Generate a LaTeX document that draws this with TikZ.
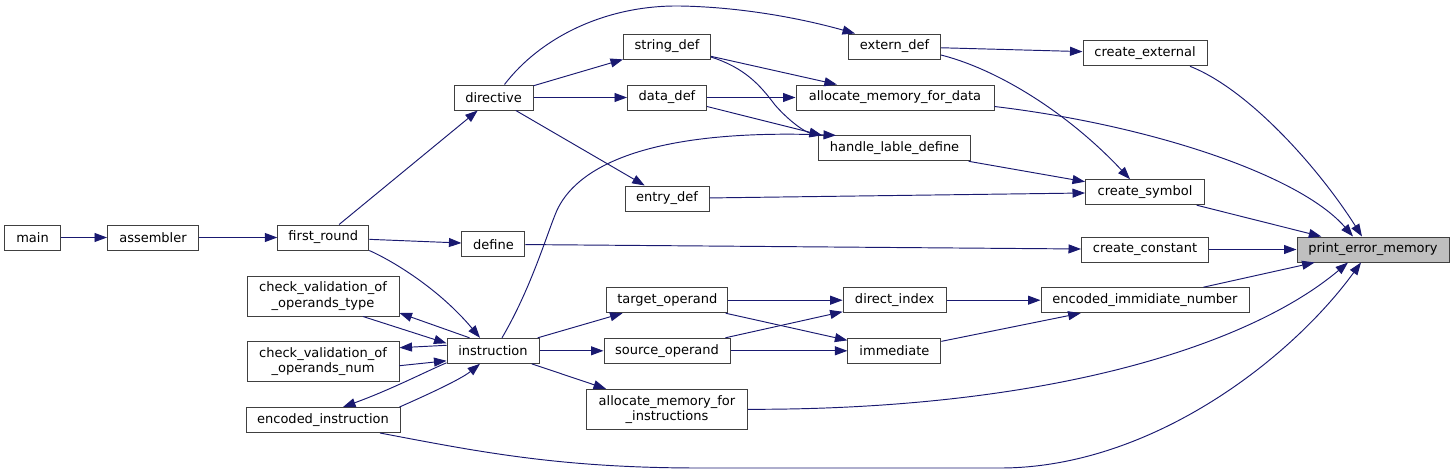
\documentclass[tikz,border=0pt]{standalone}
\usepackage{fontspec}
\setmainfont{DejaVu Sans}
\usetikzlibrary{calc,arrows.meta}
\definecolor{edgeblue}{HTML}{191970}
\definecolor{boxgray}{HTML}{404040}
\definecolor{hlfill}{HTML}{BFBFBF}
\begin{document}
\begin{tikzpicture}[x=1pt,y=-1pt,
  fn/.style={draw=boxgray, line width=1pt, fill=white, minimum height=25pt, inner sep=0pt, font=\fontsize{13}{15.3}\selectfont, text=black, align=center},
  hl/.style={fn, fill=hlfill},
  tall/.style={minimum height=40pt},
  edge/.style={draw=edgeblue, line width=0.95pt, -{Triangle[length=12.5pt,width=9pt]}}
]
\useasboundingbox (0,0) rectangle (1455,474);

\node[fn, minimum width=56pt] (main) at (32.5,237.5) {main};
\node[fn, minimum width=91pt] (assembler) at (153,237.5) {assembler};
\node[fn, minimum width=91pt] (first) at (323.3,237.5) {first\_round};
\node[fn, minimum width=79pt] (directive) at (493.5,97.5) {directive};
\node[fn, minimum width=63pt] (define) at (493.4,244.3) {define};
\node[fn, minimum width=87pt] (string) at (667,46.5) {string\_def};
\node[fn, minimum width=79pt] (data) at (667,97.5) {data\_def};
\node[fn, minimum width=84pt] (entry) at (667,198.5) {entry\_def};
\node[fn, minimum width=92pt] (extern) at (894.5,46.5) {extern\_def};
\node[fn, minimum width=198pt] (amd) at (895,97.5) {allocate\_memory\_for\_data};
\node[fn, minimum width=152pt] (hld) at (894.5,148.3) {handle\_lable\_define};
\node[fn, minimum width=124pt] (cext) at (1145,53.3) {create\_external};
\node[fn, minimum width=119pt] (csym) at (1145,192.2) {create\_symbol};
\node[fn, minimum width=127pt] (ccon) at (1145,249.5) {create\_constant};
\node[hl, minimum width=152pt] (pem) at (1373,249.5) {print\_error\_memory};
\node[fn, minimum width=208pt] (eimn) at (1145,300.2) {encoded\_immidiate\_number};
\node[fn, minimum width=103pt] (dind) at (894.6,300.2) {direct\_index};
\node[fn, minimum width=93pt] (imm) at (894.4,350.8) {immediate};
\node[fn, minimum width=121pt] (target) at (667.3,300.2) {target\_operand};
\node[fn, minimum width=126pt] (source) at (667,350.8) {source\_operand};
\node[fn, tall, minimum width=161pt] (amfi) at (667,409.3) {allocate\_memory\_for\\\_instructions};
\node[fn, minimum width=92pt] (instr) at (493,350.8) {instruction};
\node[fn, tall, minimum width=152pt] (cvot) at (323,296) {check\_validation\_of\\\_operands\_type};
\node[fn, tall, minimum width=152pt] (cvon) at (323,361.7) {check\_validation\_of\\\_operands\_num};
\node[fn, minimum width=154pt] (einstr) at (323,420) {encoded\_instruction};

\draw[edge] (main) -- (assembler);
\draw[edge] (assembler) -- (first);
\draw[edge] (first) -- (directive);
\draw[edge] (first) -- (define);
\draw[edge] (first.south east) .. controls (395,262) and (440,290) .. ($(instr.north)+(-13,0)$);
\draw[edge] ($(directive.north)+(11,0)$) .. controls (540,38) and (605,5) .. (680,6) .. controls (740,7) and (800,18) .. ($(extern.north west)+(7,0)$);
\draw[edge] (directive) -- (string);
\draw[edge] (directive) -- (data);
\draw[edge] (directive) -- (entry);
\draw[edge] (string) -- (amd);
\draw[edge] ($(string.east)+(0,10.5)$) .. controls (745,68) and (760,85) .. (775,105) .. controls (790,122) and (805,132) .. ($(hld.north west)+(4,0)$);
\draw[edge] (data) -- (amd);
\draw[edge] ($(data.east)+(0,9)$) -- ($(hld.north west)+(4,0)$);
\draw[edge] ($(instr.north)+(9,0)$) .. controls (530,290) and (545,240) .. (555,215) .. controls (570,175) and (630,128) .. ($(hld.north west)+(18,0)$);
\draw[edge] (extern) -- (cext);
\draw[edge] ($(extern.east)+(0,8.5)$) .. controls (1000,70) and (1070,115) .. ($(csym.north)+(-15,0)$);
\draw[edge] (hld) -- (csym);
\draw[edge] (entry) -- (csym);
\draw[edge] (define) -- (ccon);
\draw[edge] ($(cext.south)+(45,0)$) .. controls (1250,90) and (1320,170) .. ($(pem.north)+(-11,0)$);
\draw[edge] ($(amd.east)+(0,9)$) .. controls (1150,125) and (1300,175) .. ($(pem.north)+(-20,0)$);
\draw[edge] (csym) -- (pem);
\draw[edge] (ccon) -- (pem);
\draw[edge] (eimn) -- (pem);
\draw[edge] (amfi.east) .. controls (1050,410) and (1250,345) .. ($(pem.south)+(-25,0)$);
\draw[edge] ($(einstr.south)+(57,0)$) .. controls (480,452) and (560,468) .. (700,468) -- (1000,468) .. controls (1150,468) and (1290,360) .. ($(pem.south)+(-12,0)$);
\draw[edge] (dind) -- (eimn);
\draw[edge] (imm) -- (eimn);
\draw[edge] (target) -- (dind);
\draw[edge] (target) -- (imm);
\draw[edge] (source) -- (dind);
\draw[edge] (source) -- (imm);
\draw[edge] (instr) -- (target);
\draw[edge] (instr) -- (source);
\draw[edge] (instr) -- (amfi);
\draw[edge] ($(instr.north west)+(23,0)$) -- ($(cvot.south east)+(0,-3.5)$);
\draw[edge] ($(cvot.south)+(40,0)$) -- ($(instr.west)+(0,-7.5)$);
\draw[edge] ($(instr.west)+(0,-5.5)$) -- ($(cvon.east)+(0,-14)$);
\draw[edge] ($(cvon.east)+(0,4)$) -- ($(instr.west)+(0,10)$);
\draw[edge] ($(instr.south west)+(0,-1)$) .. controls (425,372) and (390,390) .. ($(einstr.north)+(20,0)$);
\draw[edge] ($(einstr.north east)+(-1,0)$) .. controls (420,398) and (460,380) .. ($(instr.south)+(-13,0)$);
\end{tikzpicture}
\end{document}
